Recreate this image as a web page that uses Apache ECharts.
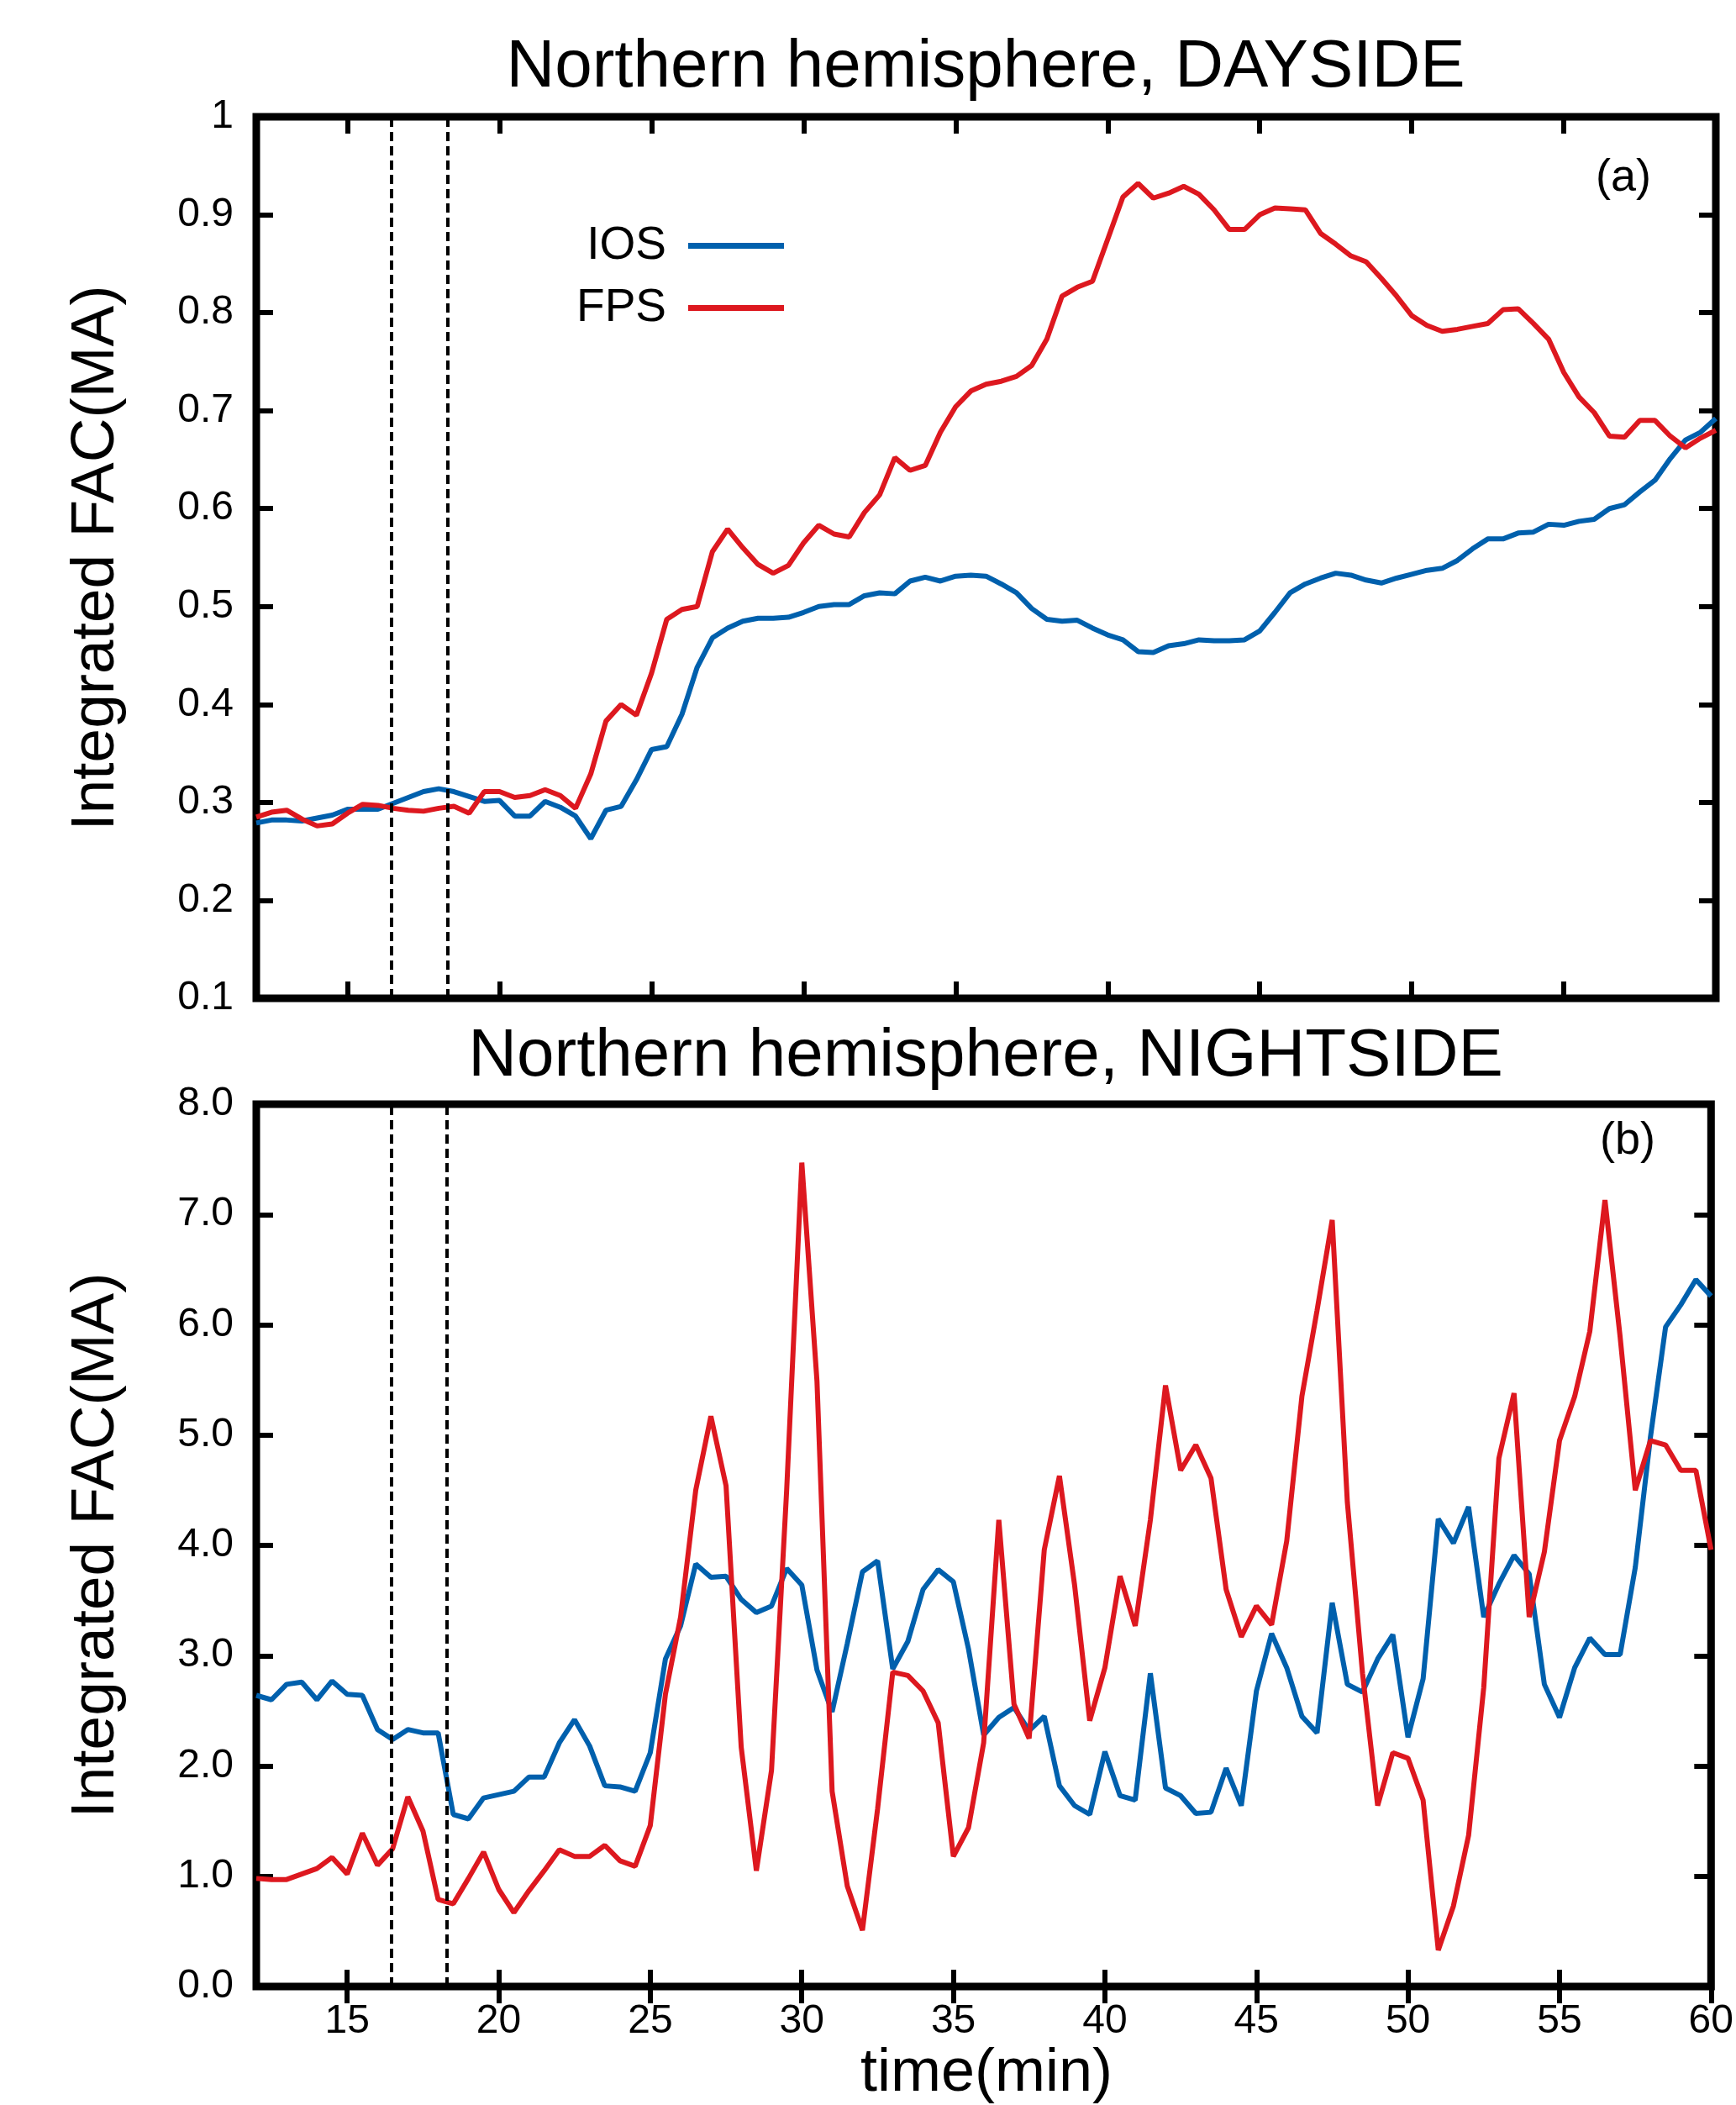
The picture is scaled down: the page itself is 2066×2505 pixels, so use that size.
<!DOCTYPE html>
<html>
<head>
<meta charset="utf-8">
<script src="https://cdn.jsdelivr.net/npm/echarts@6/dist/echarts.min.js"></script>
<style>
html,body{margin:0;padding:0;background:#fff;}
#chart{width:2066px;height:2505px;}
</style>
</head>
<body>
<div id="chart"></div>
<script>
const times = [12,12.5,13,13.5,14,14.5,15,15.5,16,16.5,17,17.5,18,18.5,19,19.5,20,20.5,21,21.5,22,22.5,23,23.5,24,24.5,25,25.5,26,26.5,27,27.5,28,28.5,29,29.5,30,30.5,31,31.5,32,32.5,33,33.5,34,34.5,35,35.5,36,36.5,37,37.5,38,38.5,39,39.5,40,40.5,41,41.5,42,42.5,43,43.5,44,44.5,45,45.5,46,46.5,47,47.5,48,48.5,49,49.5,50,50.5,51,51.5,52,52.5,53,53.5,54,54.5,55,55.5,56,56.5,57,57.5,58,58.5,59,59.5,60];

const dayIOS = [
0.279,0.282,0.282,0.281,0.284,0.287,0.293,0.293,0.293,0.299,
0.305,0.311,0.314,0.311,0.306,0.301,0.302,0.286,0.286,0.301,
0.295,0.286,0.263,0.292,0.296,0.323,0.354,0.357,0.390,0.438,
0.468,0.478,0.485,0.488,0.488,0.489,0.494,0.500,0.502,0.502,
0.511,0.514,0.513,0.526,0.530,0.526,0.531,0.532,0.531,0.523,
0.514,0.498,0.487,0.485,0.486,0.478,0.471,0.466,0.454,0.453,
0.460,0.462,0.466,0.465,0.465,0.466,0.475,0.494,0.514,0.523,
0.529,0.534,0.532,0.527,0.524,0.529,0.533,0.537,0.539,0.547,
0.559,0.569,0.569,0.575,0.576,0.584,0.583,0.587,0.589,0.600,
0.604,0.617,0.629,0.651,0.670,0.678,0.692];

const dayFPS = [
0.285,0.290,0.292,0.283,0.276,0.278,0.289,0.298,0.297,0.294,
0.292,0.291,0.294,0.296,0.289,0.311,0.311,0.305,0.307,0.313,
0.307,0.294,0.329,0.383,0.400,0.389,0.432,0.487,0.497,0.500,
0.556,0.579,0.560,0.543,0.534,0.542,0.565,0.583,0.574,0.571,
0.596,0.614,0.652,0.639,0.644,0.678,0.704,0.720,0.727,0.730,
0.735,0.746,0.773,0.817,0.826,0.832,0.875,0.918,0.932,0.917,
0.922,0.929,0.921,0.905,0.885,0.885,0.900,0.907,0.906,0.905,
0.881,0.870,0.858,0.852,0.835,0.817,0.797,0.787,0.781,0.783,
0.786,0.789,0.803,0.804,0.789,0.773,0.739,0.714,0.698,0.674,
0.673,0.690,0.690,0.674,0.662,0.672,0.680];

const nightIOS = [
2.64,2.60,2.74,2.76,2.60,2.77,2.65,2.64,2.33,2.24,
2.33,2.30,2.30,1.56,1.52,1.71,1.74,1.77,1.90,1.90,
2.21,2.42,2.18,1.82,1.81,1.77,2.12,2.97,3.27,3.83,
3.71,3.72,3.51,3.39,3.45,3.79,3.64,2.87,2.49,3.11,
3.76,3.86,2.88,3.13,3.60,3.78,3.67,3.06,2.28,2.44,
2.53,2.32,2.45,1.82,1.64,1.56,2.13,1.73,1.69,2.84,
1.80,1.73,1.57,1.58,1.98,1.64,2.68,3.20,2.89,2.45,
2.30,3.48,2.74,2.67,2.97,3.19,2.26,2.79,4.24,4.02,
4.35,3.35,3.65,3.91,3.74,2.74,2.44,2.89,3.16,3.01,
3.01,3.80,4.98,5.98,6.18,6.41,6.26];

const nightFPS = [
0.98,0.97,0.97,1.02,1.07,1.17,1.02,1.39,1.10,1.25,
1.72,1.41,0.79,0.75,0.98,1.22,0.88,0.67,0.87,1.05,
1.24,1.18,1.18,1.28,1.14,1.09,1.46,2.65,3.35,4.50,
5.17,4.54,2.17,1.05,1.96,4.50,7.47,5.49,1.77,0.91,
0.51,1.61,2.85,2.82,2.68,2.39,1.18,1.44,2.21,4.23,
2.56,2.25,3.96,4.63,3.64,2.41,2.89,3.72,3.27,4.23,
5.45,4.68,4.91,4.61,3.60,3.17,3.45,3.28,4.04,5.35,
6.13,6.95,4.39,2.84,1.64,2.12,2.07,1.69,0.33,0.73,
1.37,2.71,4.79,5.38,3.35,3.94,4.95,5.35,5.94,7.13,
5.89,4.50,4.95,4.91,4.68,4.68,3.96];

const xTicks = [15,20,25,30,35,40,45,50,55,60];
const dashTimes = [16.45, 18.3];
const titles = ['Northern hemisphere, DAYSIDE', 'Northern hemisphere, NIGHTSIDE'];
const panelTags = ['(a)', '(b)'];
const seriesNames = ['IOS', 'FPS'];
const yName = 'Integrated FAC(MA)';
const xName = 'time(min)';

const BLUE = '#0060ad';
const RED = '#dd181f';
const FONT = '"Liberation Sans", Arial, Helvetica, sans-serif';

const G = [
  {left: 305, top: 139, width: 1737, height: 1049},
  {left: 305, top: 1314, width: 1737, height: 1050}
];

function pairs(arr) { return times.map((t, i) => [t, arr[i]]); }

const tickStyle = {show: true, inside: true, length: 20, lineStyle: {color: '#000', width: 6}};

function xAx(gi, pos, labels) {
  return {
    type: 'value', gridIndex: gi, position: pos, min: 12, max: 60,
    axisLine: {show: false},
    splitLine: {show: false},
    axisTick: Object.assign({customValues: xTicks}, tickStyle),
    axisLabel: {show: labels, customValues: xTicks, margin: 18, color: '#000', fontSize: 48, fontFamily: FONT}
  };
}
function yAx(gi, pos, min, max, interval, labels, fmt) {
  return {
    type: 'value', gridIndex: gi, position: pos, min: min, max: max, interval: interval,
    axisLine: {show: false},
    splitLine: {show: false},
    axisTick: tickStyle,
    axisLabel: {show: labels, margin: 27, color: '#000', fontSize: 48, fontFamily: FONT, formatter: fmt}
  };
}

const markDash = {
  silent: true,
  symbol: ['none', 'none'],
  label: {show: false},
  lineStyle: {color: '#000', type: [11, 6], width: 4},
  data: dashTimes.map(v => ({xAxis: v}))
};

function line(name, color, xi, yi, data, withMark) {
  const s = {
    name: name, type: 'line', xAxisIndex: xi, yAxisIndex: yi,
    data: data, symbol: 'none', showSymbol: false, smooth: false,
    lineStyle: {color: color, width: 6}, itemStyle: {color: color},
    z: 3, animation: false
  };
  if (withMark) s.markLine = markDash;
  return s;
}

const chart = echarts.init(document.getElementById('chart'), null, {renderer: 'canvas'});
chart.setOption({
  backgroundColor: '#fff',
  animation: false,
  grid: G.map(g => Object.assign({show: true, borderColor: '#000', borderWidth: 9, backgroundColor: 'transparent', containLabel: false}, g)),
  xAxis: [xAx(0, 'bottom', false), xAx(0, 'top', false), xAx(1, 'bottom', true), xAx(1, 'top', false)],
  yAxis: [
    yAx(0, 'left', 0.1, 1, 0.1, true, v => (Math.abs(v - 1) < 1e-9 ? '1' : v.toFixed(1))),
    yAx(0, 'right', 0.1, 1, 0.1, false),
    yAx(1, 'left', 0, 8, 1, true, v => v.toFixed(1)),
    yAx(1, 'right', 0, 8, 1, false)
  ],
  legend: {
    data: seriesNames.map(n => ({name: n, icon: 'rect'})),
    orient: 'vertical',
    align: 'right',
    right: 1133,
    top: 265,
    padding: 0,
    itemWidth: 114,
    itemHeight: 7,
    itemGap: 19,
    selectedMode: false,
    textStyle: {fontSize: 55, fontFamily: FONT, color: '#000', padding: [0, 21, 0, 0]}
  },
  graphic: [
    {type: 'text', x: 1173, y: 81, style: {text: titles[0], font: '80px ' + FONT, fill: '#000', textAlign: 'center', textVerticalAlign: 'middle'}},
    {type: 'text', x: 1173, y: 1258, style: {text: titles[1], font: '80px ' + FONT, fill: '#000', textAlign: 'center', textVerticalAlign: 'middle'}},
    {type: 'text', x: 1932, y: 212, style: {text: panelTags[0], font: '54px ' + FONT, fill: '#000', textAlign: 'center', textVerticalAlign: 'middle'}},
    {type: 'text', x: 1937, y: 1358, style: {text: panelTags[1], font: '54px ' + FONT, fill: '#000', textAlign: 'center', textVerticalAlign: 'middle'}},
    {type: 'text', x: 115, y: 664, rotation: Math.PI / 2, style: {text: yName, font: '73px ' + FONT, fill: '#000', textAlign: 'center', textVerticalAlign: 'middle'}},
    {type: 'text', x: 115, y: 1839, rotation: Math.PI / 2, style: {text: yName, font: '73px ' + FONT, fill: '#000', textAlign: 'center', textVerticalAlign: 'middle'}},
    {type: 'text', x: 1174, y: 2468, style: {text: xName, font: '72px ' + FONT, fill: '#000', textAlign: 'center', textVerticalAlign: 'middle'}}
  ],
  series: [
    line('IOS', BLUE, 0, 0, pairs(dayIOS), true),
    line('FPS', RED, 0, 0, pairs(dayFPS), false),
    line('IOS', BLUE, 2, 2, pairs(nightIOS), true),
    line('FPS', RED, 2, 2, pairs(nightFPS), false)
  ]
});
</script>
</body>
</html>
